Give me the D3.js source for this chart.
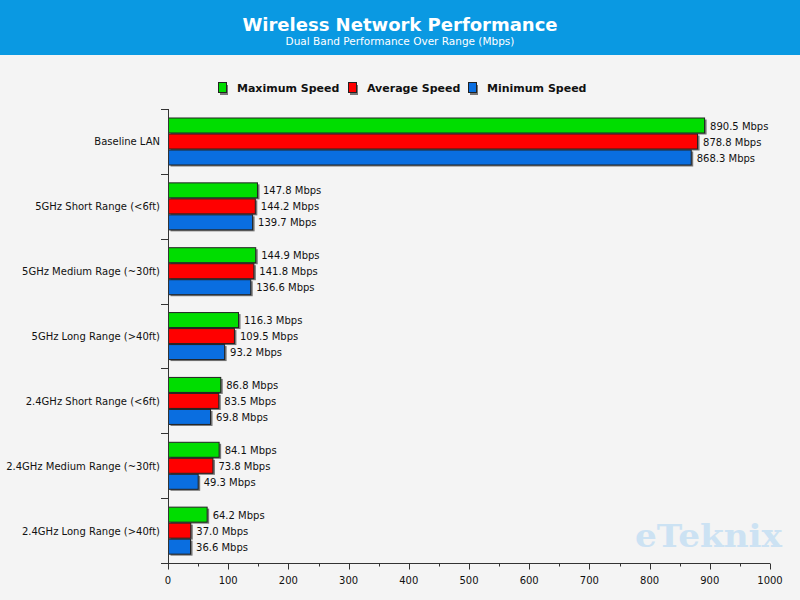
<!DOCTYPE html>
<html><head><meta charset="utf-8">
<script src="https://cdn.jsdelivr.net/npm/d3@7/dist/d3.min.js"></script>
<style>body{margin:0;background:#f4f4f4}svg{display:block}</style>
</head><body>
<svg id="c" width="800" height="600"></svg>
<script>
const categories = ["Baseline LAN","5GHz Short Range (<6ft)","5GHz Medium Rage (~30ft)","5GHz Long Range (>40ft)","2.4GHz Short Range (<6ft)","2.4GHz Medium Range (~30ft)","2.4GHz Long Range (>40ft)"];
const seriesNames = ["Maximum Speed","Average Speed","Minimum Speed"];
const maxSpeed = [890.5,147.8,144.9,116.3,86.8,84.1,64.2];
const avgSpeed = [878.8,144.2,141.8,109.5,83.5,73.8,37.0];
const minSpeed = [868.3,139.7,136.6,93.2,69.8,49.3,36.6];
const xTicks = [0,100,200,300,400,500,600,700,800,900,1000];
const colors = ["#00dd00","#ff0000","#0a6ee0"];
const seriesValues = [maxSpeed, avgSpeed, minSpeed];

const svg = d3.select("#c");
const F = "'DejaVu Sans', Verdana, sans-serif";

svg.append("rect").attr("width",800).attr("height",600).attr("fill","#f4f4f4");
svg.append("rect").attr("width",800).attr("height",55).attr("fill","#0a99e2");
svg.append("text").attr("x",400).attr("y",31).attr("text-anchor","middle")
  .attr("font-family",F).attr("font-weight","bold").attr("font-size",18).attr("fill","#fff")
  .text("Wireless Network Performance");
svg.append("text").attr("x",400).attr("y",45).attr("text-anchor","middle")
  .attr("font-family",F).attr("font-size",10.5).attr("fill","#fff")
  .text("Dual Band Performance Over Range (Mbps)");

// legend
const legX = [218,348,468];
const leg = svg.append("g");
seriesNames.forEach((n,i)=>{
  leg.append("rect").attr("x",legX[i]+2).attr("y",83+2).attr("width",8).attr("height",10).attr("fill","#777");
  leg.append("rect").attr("x",legX[i]+0.5).attr("y",82.5).attr("width",8).attr("height",10)
    .attr("fill",colors[i]).attr("stroke","#222").attr("stroke-width",1);
  leg.append("text").attr("x",legX[i]+19).attr("y",91.5).attr("font-family",F).attr("font-weight","bold")
    .attr("font-size",11).attr("fill","#111").text(n);
});

const x = d3.scaleLinear().domain([0,1000]).range([168,770]);
const y = d3.scaleBand().domain(categories).range([109,563]);
const inner = d3.scaleBand().domain(seriesNames).range([8.5, 8.5+48]);

// bars
const g = svg.append("g");
categories.forEach((c,ci)=>{
  seriesNames.forEach((s,si)=>{
    const v = seriesValues[si][ci];
    const y0 = y(c)+inner(s);
    const w = x(v)-x(0);
    g.append("rect").attr("x",x(0)+2.5).attr("y",y0+2).attr("width",w).attr("height",15)
      .attr("fill","#555").attr("opacity",0.8);
    g.append("rect").attr("x",x(0)+0.5).attr("y",y0+0.5).attr("width",w).attr("height",15)
      .attr("fill",colors[si]).attr("stroke","#222").attr("stroke-width",1);
    g.append("text").attr("x",x(v)+6).attr("y",y0+12).attr("font-family",F)
      .attr("font-size",10).attr("fill","#111").text(v.toFixed(1)+" Mbps");
  });
});

// y axis
const ya = svg.append("g").attr("stroke","#333").attr("stroke-width",1);
ya.append("line").attr("x1",168.5).attr("x2",168.5).attr("y1",109).attr("y2",563);
const bounds = categories.map(c=>y(c)).concat([y.range()[1]]);
bounds.forEach(b=>{
  ya.append("line").attr("x1",161).attr("x2",168.5).attr("y1",Math.round(b)+0.5).attr("y2",Math.round(b)+0.5);
});
categories.forEach(c=>{
  svg.append("text").attr("x",160).attr("y",y(c)+y.bandwidth()/2+4).attr("text-anchor","end")
    .attr("font-family",F).attr("font-size",10).attr("fill","#111").text(c);
});

// x axis
const xa = svg.append("g").attr("transform","translate(0,563.5)");
xa.append("line").attr("x1",161).attr("x2",770).attr("y1",0).attr("y2",0).attr("stroke","#333");
xTicks.forEach(t=>{
  xa.append("line").attr("x1",Math.round(x(t))+0.5).attr("x2",Math.round(x(t))+0.5).attr("y1",0).attr("y2",6).attr("stroke","#333");
  xa.append("text").attr("x",x(t)).attr("y",20.5).attr("text-anchor","middle")
    .attr("font-family",F).attr("font-size",10).attr("fill","#111").text(t);
});
d3.range(50,1000,100).forEach(t=>{
  xa.append("line").attr("x1",Math.round(x(t))+0.5).attr("x2",Math.round(x(t))+0.5).attr("y1",0).attr("y2",3).attr("stroke","#333");
});

// watermark
svg.append("text").attr("x",635).attr("y",547).attr("font-family","'DejaVu Serif', serif").attr("font-weight","bold")
  .attr("font-size",32).attr("fill","#cce2f3").attr("textLength",147).attr("lengthAdjust","spacingAndGlyphs").text("eTeknix");
</script>
</body></html>
